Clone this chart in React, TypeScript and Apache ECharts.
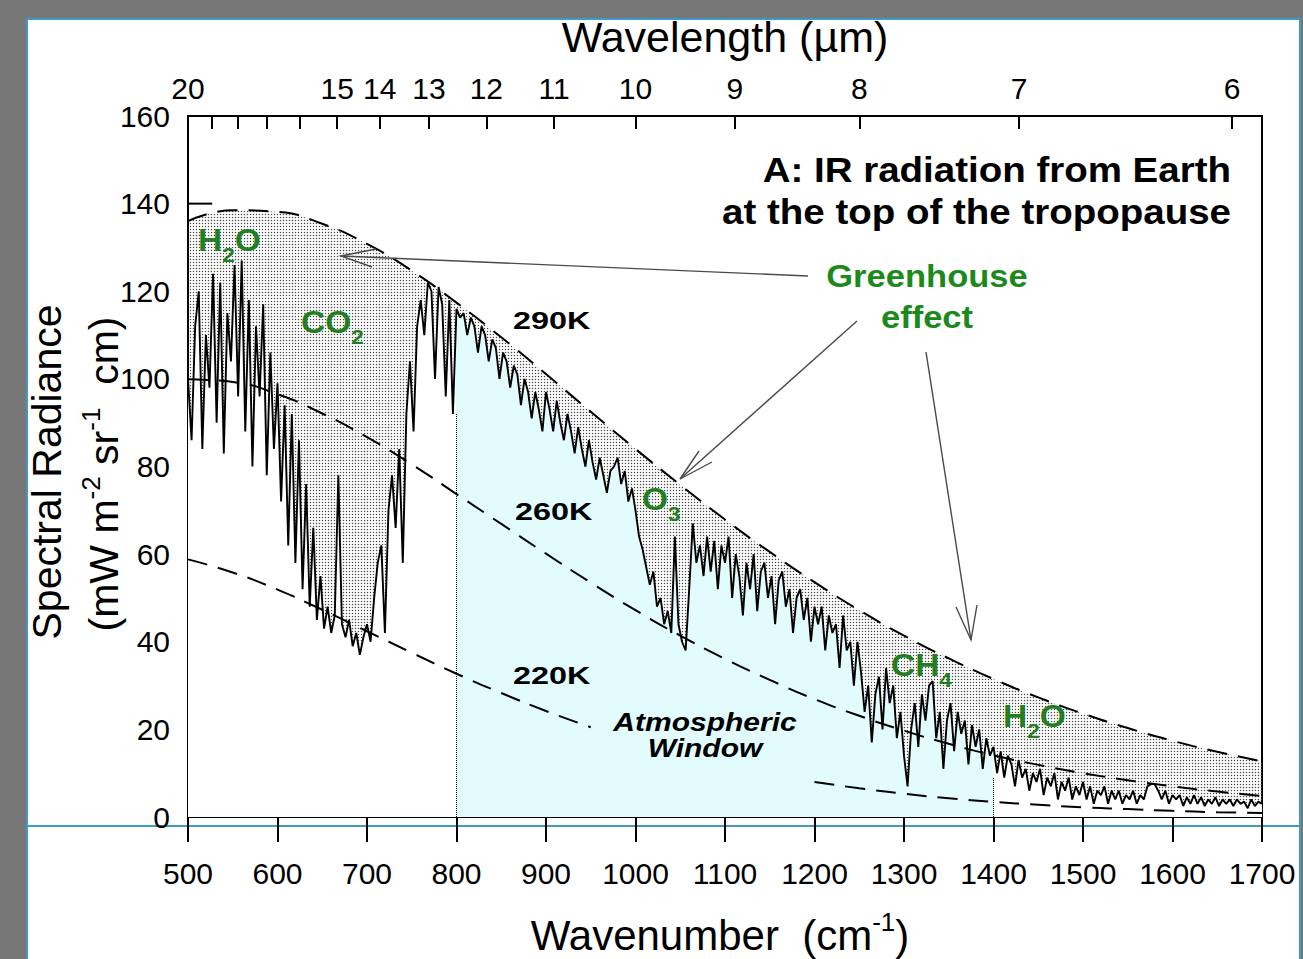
import React, { useEffect, useRef } from "react";
import * as echarts from "echarts";

const FONT = '"Liberation Sans", Arial, Helvetica, sans-serif';
const GREEN = "#1b8a1b";
const PANEL_BLUE = "#3d9bc6";

// Measured spectrum, one value every 4 cm-1 from 500 to 1700 cm-1
const SPECTRUM_START = 500;
const SPECTRUM_STEP = 4;
const spectrumRadiance = [
  100, 86, 112, 120, 84, 110, 98, 124, 90, 122, 83, 115, 104, 126, 96, 127, 88, 118, 80, 112, 96, 117, 78, 106, 84,
  99, 72, 94, 62, 92, 58, 86, 52, 76, 48, 66, 45, 55, 43, 48, 42, 46, 78, 44, 41, 45, 39, 42, 37, 41,
  44, 40, 50, 58, 62, 42, 70, 78, 66, 84, 58, 92, 104, 88, 112, 118, 110, 122, 120, 100, 121, 117, 96, 118, 92,
  116, 114, 115, 110, 114, 112, 106, 112, 110, 104, 109, 107, 100, 106, 104, 98, 103, 101, 94, 100, 97, 91, 97, 93, 88,
  97, 93, 88, 95, 90, 86, 92, 88, 83, 89, 84, 80, 86, 81, 77, 82, 78, 74, 79, 80, 82, 76, 79, 72, 75,
  70, 64, 61, 57, 53, 56, 48, 50, 44, 47, 42, 64, 44, 40, 38, 52, 67, 58, 62, 55, 64, 56, 63, 52, 62,
  58, 64, 50, 60, 55, 46, 58, 52, 60, 47, 56, 58, 50, 55, 44, 54, 56, 48, 52, 42, 50, 52, 45, 50, 40,
  48, 44, 48, 38, 46, 42, 44, 34, 46, 38, 40, 30, 40, 33, 24, 30, 17, 28, 32, 20, 34, 26, 30, 18, 24,
  14, 7, 20, 26, 16, 28, 22, 30, 31, 18, 24, 11, 22, 26, 15, 24, 19, 22, 12, 21, 16, 20, 11, 18, 14,
  16, 10, 15, 9, 14, 12, 7, 13, 9, 11, 6, 10, 8, 11, 5, 9, 7, 10, 4, 8, 6, 9, 4, 7, 5,
  8, 4, 7, 3, 6, 5, 7, 3, 6, 4, 6, 3, 5, 4, 6, 3, 5, 4, 7, 7.5, 7.5, 6, 4, 6, 3,
  5, 4, 5, 2.5, 4.5, 3, 5, 3, 4.5, 2.5, 4, 3, 4.5, 2.5, 4, 3, 4, 2.5, 4, 3, 3.5, 2, 4, 2.5, 3.5, 3,
];

// Blackbody reference curves
const planckWavenumbers = [
  500, 550, 600, 650, 700, 750, 800, 850, 900, 950, 1000, 1050, 1100,
  1150, 1200, 1250, 1300, 1350, 1400, 1450, 1500, 1550, 1600, 1650, 1700,
];
const radiance290K = [
  136.0, 138.5, 138.1, 135.4, 130.8, 124.7, 117.4, 109.5, 101.1, 92.5, 84.0, 75.8, 67.9,
  60.5, 53.6, 47.2, 41.4, 36.2, 31.5, 27.3, 23.6, 20.3, 17.4, 14.9, 12.7,
];
const radiance260K = [
  99.9, 99.3, 96.5, 92.1, 86.7, 80.5, 73.7, 66.9, 60.1, 53.5, 47.2, 41.4, 36.1,
  31.3, 26.9, 23.1, 19.7, 16.7, 14.1, 11.9, 10.0, 8.4, 7.0, 5.8, 4.8,
];
const radiance220K = [
  58.8, 55.8, 51.9, 47.3, 42.4, 37.5, 32.7, 28.3, 24.2, 20.5, 17.2, 14.4, 11.9,
  9.8, 8.0, 6.55, 5.3, 4.3, 3.45, 2.8, 2.2, 1.8, 1.4, 1.1, 0.9,
];
// the 220K curve is interrupted where the window label sits
const gap220K = [950, 1200];

// Atmospheric window edges and the height of their dotted markers
const windowEdges = [800, 1400];
const windowEdgeTops = [92, 9];

// Top axis: wavelength in micrometres
const wavelengthLabels = [20, 15, 14, 13, 12, 11, 10, 9, 8, 7, 6];
const wavelengthTicks = [20, 19, 18, 17, 16, 15, 14, 13, 12, 11, 10, 9, 8, 7, 6];

const X_MIN = 500;
const X_MAX = 1700;

const measureCtx =
  typeof document !== "undefined" ? document.createElement("canvas").getContext("2d") : null;

function textWidth(text: string, size: number, weight = "normal", style = "normal") {
  if (!measureCtx) return text.length * size * 0.55;
  measureCtx.font = `${style} ${weight} ${size}px ${FONT}`;
  return measureCtx.measureText(text).width;
}

type Part = { text: string; kind?: "sub" | "sup" };

// Lays out a run of text with sub/superscripts as a graphic group
function textRun(opts: {
  x: number;
  y: number;
  parts: Part[];
  size: number;
  small: number;
  shift: number;
  weight?: string;
  fontStyle?: string;
  color?: string;
  anchor?: "left" | "center" | "right";
  scaleX?: number;
  rotation?: number;
}) {
  const weight = opts.weight || "normal";
  const fontStyle = opts.fontStyle || "normal";
  const color = opts.color || "#000";
  let cursor = 0;
  const items: any[] = [];
  for (const p of opts.parts) {
    const size = p.kind ? opts.small : opts.size;
    const w = textWidth(p.text, size, weight, fontStyle);
    items.push({
      type: "text",
      x: cursor,
      y: p.kind === "sub" ? opts.shift : p.kind === "sup" ? -opts.shift : 0,
      silent: true,
      style: {
        text: p.text,
        fontSize: size,
        fontFamily: FONT,
        fontWeight: weight,
        fontStyle,
        fill: color,
        align: "left",
        verticalAlign: "middle",
      },
    });
    cursor += w;
  }
  const anchor = opts.anchor || "left";
  const offset = anchor === "center" ? -cursor / 2 : anchor === "right" ? -cursor : 0;
  items.forEach((it) => (it.x += offset));
  return {
    type: "group",
    x: opts.x,
    y: opts.y,
    scaleX: opts.scaleX || 1,
    rotation: opts.rotation || 0,
    z: 100,
    silent: true,
    children: items,
  };
}

function label(
  text: string,
  x: number,
  y: number,
  size: number,
  extra: { weight?: string; fontStyle?: string; color?: string; align?: string; scaleX?: number } = {}
) {
  return {
    type: "text",
    x,
    y,
    scaleX: extra.scaleX || 1,
    z: 100,
    silent: true,
    style: {
      text,
      fontSize: size,
      fontFamily: FONT,
      fontWeight: extra.weight || "normal",
      fontStyle: extra.fontStyle || "normal",
      fill: extra.color || "#000",
      align: extra.align || "left",
      verticalAlign: "middle",
    },
  };
}

function arrow(x1: number, y1: number, x2: number, y2: number, barbs: number[][]) {
  const stroke = "#4a4a4a";
  return [
    { type: "line", z: 100, silent: true, shape: { x1, y1, x2, y2 }, style: { stroke, lineWidth: 1.4 } },
    {
      type: "polyline",
      z: 100,
      silent: true,
      shape: { points: [barbs[0], [x2, y2], barbs[1]] },
      style: { stroke, lineWidth: 1.4, fill: null },
    },
  ];
}

// Small dot tile used to stipple the greenhouse band
function makeStipple() {
  const c = document.createElement("canvas");
  c.width = 3;
  c.height = 3;
  const g = c.getContext("2d")!;
  g.fillStyle = "#4a4a4a";
  g.beginPath();
  g.arc(1.5, 1.5, 0.72, 0, Math.PI * 2);
  g.fill();
  return c;
}

export default function App() {
  const ref = useRef<HTMLDivElement>(null);

  useEffect(() => {
    document.body.style.margin = "0";
    document.body.style.overflow = "hidden";
    if (!ref.current) return;
    const chart = echarts.init(ref.current, null, { renderer: "svg" });

    const spectrum = spectrumRadiance.map((v, i) => [SPECTRUM_START + i * SPECTRUM_STEP, v]);
    const curve = (vals: number[]) => planckWavenumbers.map((x, i) => [x, vals[i]]);
    const c220 = curve(radiance220K);
    const c220West = c220.filter((p) => p[0] <= gap220K[0]);
    const c220East = c220.filter((p) => p[0] >= gap220K[1]);

    const span = X_MAX - X_MIN;
    const w0 = (windowEdges[0] - X_MIN) / span;
    const w1 = (windowEdges[1] - X_MIN) / span;
    const windowFill = new echarts.graphic.LinearGradient(0, 0, 1, 0, [
      { offset: 0, color: "#ffffff" },
      { offset: w0, color: "#ffffff" },
      { offset: w0, color: "#e2fbfd" },
      { offset: w1, color: "#e2fbfd" },
      { offset: w1, color: "#ffffff" },
      { offset: 1, color: "#ffffff" },
    ]);

    const dashed = { color: "#000", width: 2, type: [20, 11] as any };
    const axisLine = { show: true, onZero: false, lineStyle: { color: "#000", width: 2 } };
    const tickStyle = { color: "#000", width: 2 };
    const base = { type: "line", symbol: "none", silent: true, xAxisIndex: 0, yAxisIndex: 0 };

    const greenhouse = [
      ...arrow(808, 276, 341, 256, [[376, 249], [372, 267]]),
      ...arrow(857, 321, 680, 479, [[699, 451], [712, 462]]),
      ...arrow(926, 352, 971, 640, [[956, 607], [977, 605]]),
    ];

    const chem = (x: number, y: number, parts: Part[]) =>
      textRun({ x, y, parts, size: 31, small: 21, shift: 15, color: GREEN, weight: "bold", scaleX: 1.08 });

    const option: any = {
      animation: false,
      backgroundColor: "#777777",
      grid: {
        left: 188,
        right: 41,
        top: 116,
        bottom: 142,
        show: true,
        borderColor: "#000",
        borderWidth: 2,
        backgroundColor: "transparent",
      },
      xAxis: [
        {
          type: "value",
          position: "bottom",
          min: X_MIN,
          max: X_MAX,
          interval: 100,
          axisLine,
          axisTick: { show: true, inside: false, length: 25, lineStyle: tickStyle },
          axisLabel: {
            color: "#000",
            fontSize: 30,
            fontFamily: FONT,
            margin: 41,
            formatter: (v: number) => String(v),
          },
          splitLine: { show: false },
        },
        {
          type: "value",
          position: "top",
          min: X_MIN,
          max: X_MAX,
          axisLine,
          axisTick: {
            show: true,
            inside: true,
            length: 13,
            lineStyle: tickStyle,
            customValues: wavelengthTicks.map((l) => 10000 / l),
          },
          axisLabel: {
            color: "#000",
            fontSize: 30,
            fontFamily: FONT,
            margin: 13,
            customValues: wavelengthLabels.map((l) => 10000 / l),
            formatter: (v: number) => String(Math.round(10000 / v)),
          },
          splitLine: { show: false },
        },
      ],
      yAxis: {
        type: "value",
        min: 0,
        max: 160,
        interval: 20,
        axisLine,
        axisTick: { show: false },
        axisLabel: { color: "#000", fontSize: 30, fontFamily: FONT, margin: 18 },
        splitLine: { show: false },
      },
      series: [
        {
          ...base,
          name: "greenhouse",
          z: 1,
          smooth: true,
          data: curve(radiance290K),
          lineStyle: { width: 0, opacity: 0 },
          areaStyle: {
            opacity: 1,
            color: { image: makeStipple(), repeat: "repeat", imageWidth: 3, imageHeight: 3 },
          },
        },
        {
          ...base,
          name: "spectrum",
          z: 2,
          data: spectrum,
          lineStyle: { color: "#000", width: 1.9 },
          areaStyle: { opacity: 1, color: windowFill },
        },
        {
          ...base,
          name: "290K",
          z: 3,
          smooth: true,
          data: curve(radiance290K),
          lineStyle: dashed,
        },
        {
          ...base,
          name: "260K",
          z: 3,
          smooth: true,
          data: curve(radiance260K),
          lineStyle: dashed,
        },
        { ...base, name: "220K", z: 3, smooth: true, data: c220West, lineStyle: dashed },
        { ...base, name: "220K-east", z: 3, smooth: true, data: c220East, lineStyle: dashed },
        ...windowEdges.map((x, i) => ({
          ...base,
          name: "window-edge-" + i,
          z: 4,
          data: [
            [x, 0],
            [x, windowEdgeTops[i]],
          ],
          lineStyle: { color: "#000", width: 1, type: "dotted" },
        })),
        {
          ...base,
          name: "tick-140",
          z: 5,
          data: [
            [500, 140],
            [527, 140],
          ],
          lineStyle: { color: "#000", width: 2 },
        },
      ],
      graphic: {
        elements: [
          {
            type: "rect",
            z: -10,
            silent: true,
            shape: { x: 27, y: 19, width: 1273, height: 960 },
            style: { fill: "#ffffff", stroke: PANEL_BLUE, lineWidth: 2 },
          },
          {
            type: "line",
            z: -5,
            silent: true,
            shape: { x1: 27, y1: 826, x2: 1300, y2: 826 },
            style: { stroke: PANEL_BLUE, lineWidth: 2 },
          },
          // axis titles
          label("Wavelength (\u00b5m)", 725, 37, 43, { align: "center" }),
          textRun({
            x: 720,
            y: 935,
            parts: [{ text: "Wavenumber  (cm" }, { text: "-1", kind: "sup" }, { text: ")" }],
            size: 42,
            small: 26,
            shift: 13,
            anchor: "center",
          }),
          textRun({
            x: 47,
            y: 472,
            parts: [{ text: "Spectral Radiance" }],
            size: 41,
            small: 26,
            shift: 13,
            anchor: "center",
            rotation: Math.PI / 2,
          }),
          textRun({
            x: 104,
            y: 474,
            parts: [
              { text: "(mW m" },
              { text: "-2", kind: "sup" },
              { text: " sr" },
              { text: "-1", kind: "sup" },
              { text: "  cm)" },
            ],
            size: 41,
            small: 26,
            shift: 13,
            anchor: "center",
            rotation: Math.PI / 2,
          }),
          // panel title
          label("A: IR radiation from Earth", 1231, 170, 35, { weight: "bold", align: "right", scaleX: 1.1 }),
          label("at the top of the tropopause", 1231, 212, 35, { weight: "bold", align: "right", scaleX: 1.1 }),
          // greenhouse annotation
          label("Greenhouse", 927, 276, 32, { weight: "bold", align: "center", color: GREEN, scaleX: 1.08 }),
          label("effect", 927, 317, 32, { weight: "bold", align: "center", color: GREEN, scaleX: 1.08 }),
          ...greenhouse,
          // temperature labels
          label("290K", 513, 321, 24, { weight: "bold", scaleX: 1.35 }),
          label("260K", 515, 512, 24, { weight: "bold", scaleX: 1.35 }),
          label("220K", 513, 676, 24, { weight: "bold", scaleX: 1.35 }),
          label("Atmospheric", 705, 722, 25, { weight: "bold", fontStyle: "italic", align: "center", scaleX: 1.2 }),
          label("Window", 705, 748, 25, { weight: "bold", fontStyle: "italic", align: "center", scaleX: 1.2 }),
          // absorbers
          chem(198, 240, [{ text: "H" }, { text: "2", kind: "sub" }, { text: "O" }]),
          chem(301, 322, [{ text: "CO" }, { text: "2", kind: "sub" }]),
          chem(642, 499, [{ text: "O" }, { text: "3", kind: "sub" }]),
          chem(891, 665, [{ text: "CH" }, { text: "4", kind: "sub" }]),
          chem(1003, 716, [{ text: "H" }, { text: "2", kind: "sub" }, { text: "O" }]),
        ],
      },
    };

    chart.setOption(option);
    return () => chart.dispose();
  }, []);

  return <div ref={ref} style={{ width: 1303, height: 959 }} />;
}
